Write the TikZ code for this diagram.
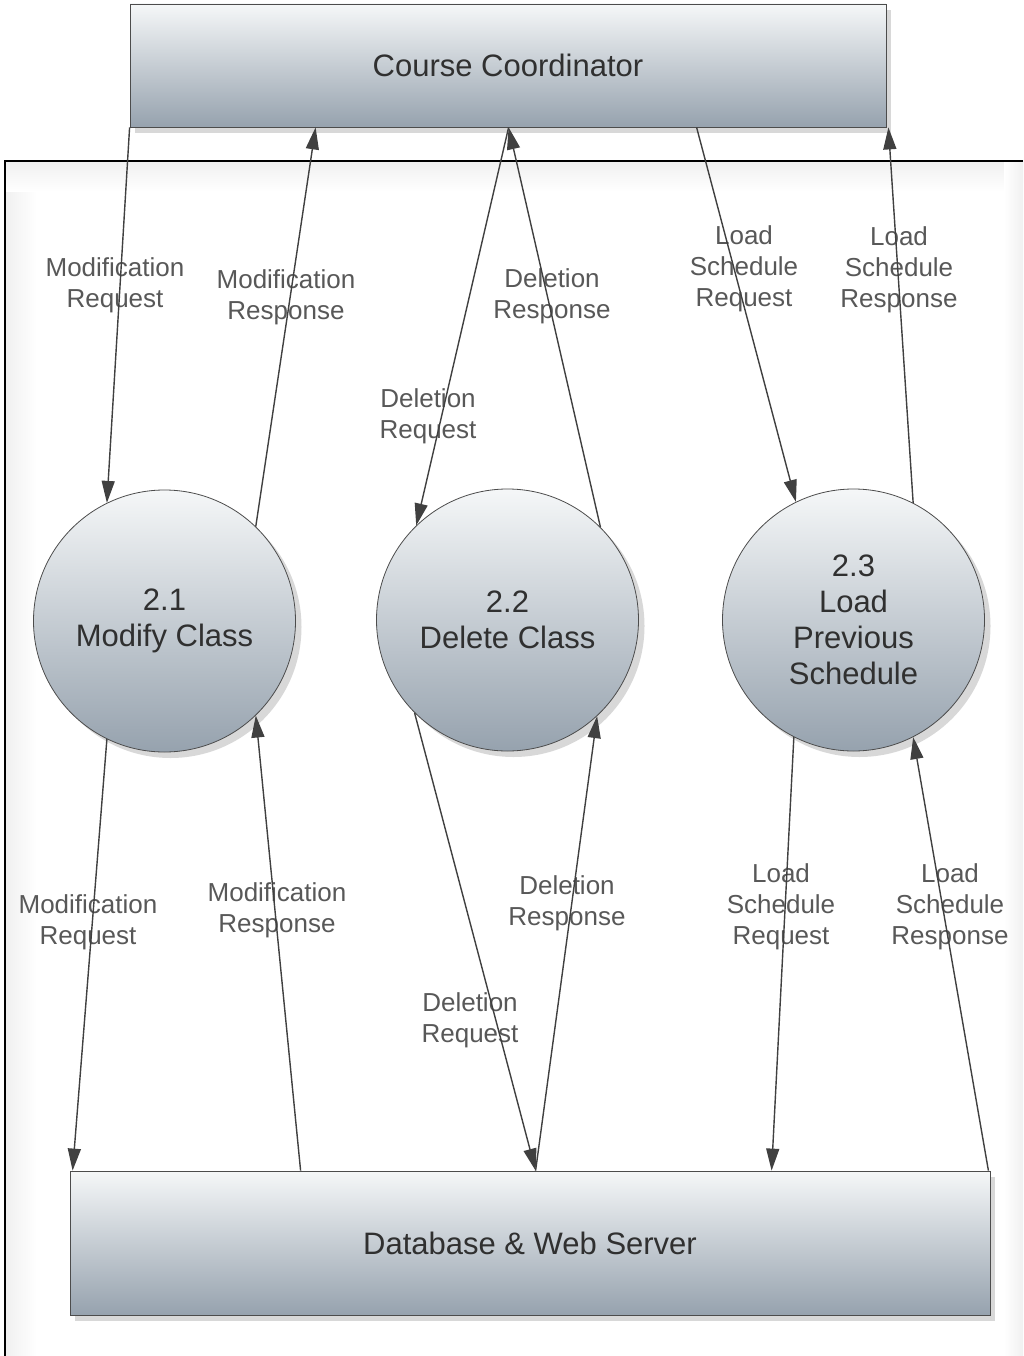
\documentclass[tikz,border=0pt]{standalone}
\usepackage{fontspec}
\setmainfont{Liberation Sans}
\usetikzlibrary{arrows.meta,shadows}
\definecolor{ln}{RGB}{64,64,64}
\definecolor{txt}{RGB}{48,48,48}
\definecolor{lbl}{RGB}{88,88,88}
\definecolor{shtop}{RGB}{245,247,248}
\definecolor{shbot}{RGB}{150,162,174}
\definecolor{band}{RGB}{240,240,240}
\begin{document}
\begin{tikzpicture}[x=1pt,y=-1pt,
  ent/.style={rectangle, draw=gray!60!black, line width=0.8pt, top color=shtop, bottom color=shbot,
    font=\fontsize{31}{36}\selectfont, text=txt, inner sep=0pt,
    drop shadow={shadow xshift=5pt,shadow yshift=-6pt,opacity=0.3}},
  proc/.style={circle, draw=gray!60!black, line width=0.8pt, top color=shtop, bottom color=shbot,
    font=\fontsize{31}{36}\selectfont, text=txt, inner sep=0pt, minimum size=262pt, align=center,
    drop shadow={shadow xshift=6pt,shadow yshift=-6pt,opacity=0.3}},
  flow/.style={draw=ln, line width=1.4pt, -{Triangle[length=22pt,width=13pt]}},
  lab/.style={font=\fontsize{26}{31}\selectfont, text=lbl, align=center, inner sep=0pt}
]
\useasboundingbox (0,0) rectangle (1023,1356);
\fill[white] (0,0) rectangle (1023,1356);
% frame background bands (soft)
\shade[left color=band, right color=white] (6,161) rectangle (36,1356);
\shade[top color=band, bottom color=white] (6,161) rectangle (1023,192);
\shade[left color=white, right color=band] (1004,161) rectangle (1023,1356);
\draw[black, line width=1.5pt] (1023,161) -- (5,161) -- (5,1356);

% entities
\node[ent, minimum width=756pt, minimum height=123pt] (cc) at (508,65.5) {Course Coordinator};
\node[ent, minimum width=920pt, minimum height=144pt] (db) at (530,1243) {Database \& Web Server};

% processes
\node[proc] (p1) at (164.5,621) {2.1\\Modify Class};
\node[proc] (p2) at (507.5,620) {2.2\\Delete Class};
\node[proc] (p3) at (853.5,620) {2.3\\Load\\Previous\\Schedule};

% labels
\node[lab] (l1) at (115,285) {Modification\\Request};
\node[lab] (l2) at (286,297) {Modification\\Response};
\node[lab] (l3) at (552,296) {Deletion\\Response};
\node[lab] (l4) at (428,416) {Deletion\\Request};
\node[lab] (l5) at (744,269) {Load\\Schedule\\Request};
\node[lab] (l6) at (899,270) {Load\\Schedule\\Response};
\node[lab] (l7) at (88,922) {Modification\\Request};
\node[lab] (l8) at (277,910) {Modification\\Response};
\node[lab] (l9) at (567,903) {Deletion\\Response};
\node[lab] (l10) at (470,1020) {Deletion\\Request};
\node[lab] (l11) at (781,907) {Load\\Schedule\\Request};
\node[lab] (l12) at (950,907) {Load\\Schedule\\Response};

% flows top
\draw[flow] (cc.south west) -- (p1.116);
\draw[flow] (p1.46) -- ([xshift=186pt]cc.south west);
\draw[flow] ([xshift=379pt]cc.south west) -- (p2.134);
\draw[flow] (p2.45) -- ([xshift=379pt]cc.south west);
\draw[flow] ([xshift=567pt]cc.south west) -- (p3.116);
\draw[flow] (p3.63) -- ([xshift=2pt]cc.south east);

% flows bottom
\draw[flow] (p1.244) -- ([xshift=3pt]db.north west);
\draw[flow] ([xshift=231pt]db.north west) -- (p1.314);
\draw[flow] (p2.225) -- ([xshift=466pt]db.north west);
\draw[flow] ([xshift=466pt]db.north west) -- (p2.313);
\draw[flow] (p3.243) -- ([xshift=702pt]db.north west);
\draw[flow] ([xshift=-2pt]db.north east) -- (p3.297);
\end{tikzpicture}
\end{document}
